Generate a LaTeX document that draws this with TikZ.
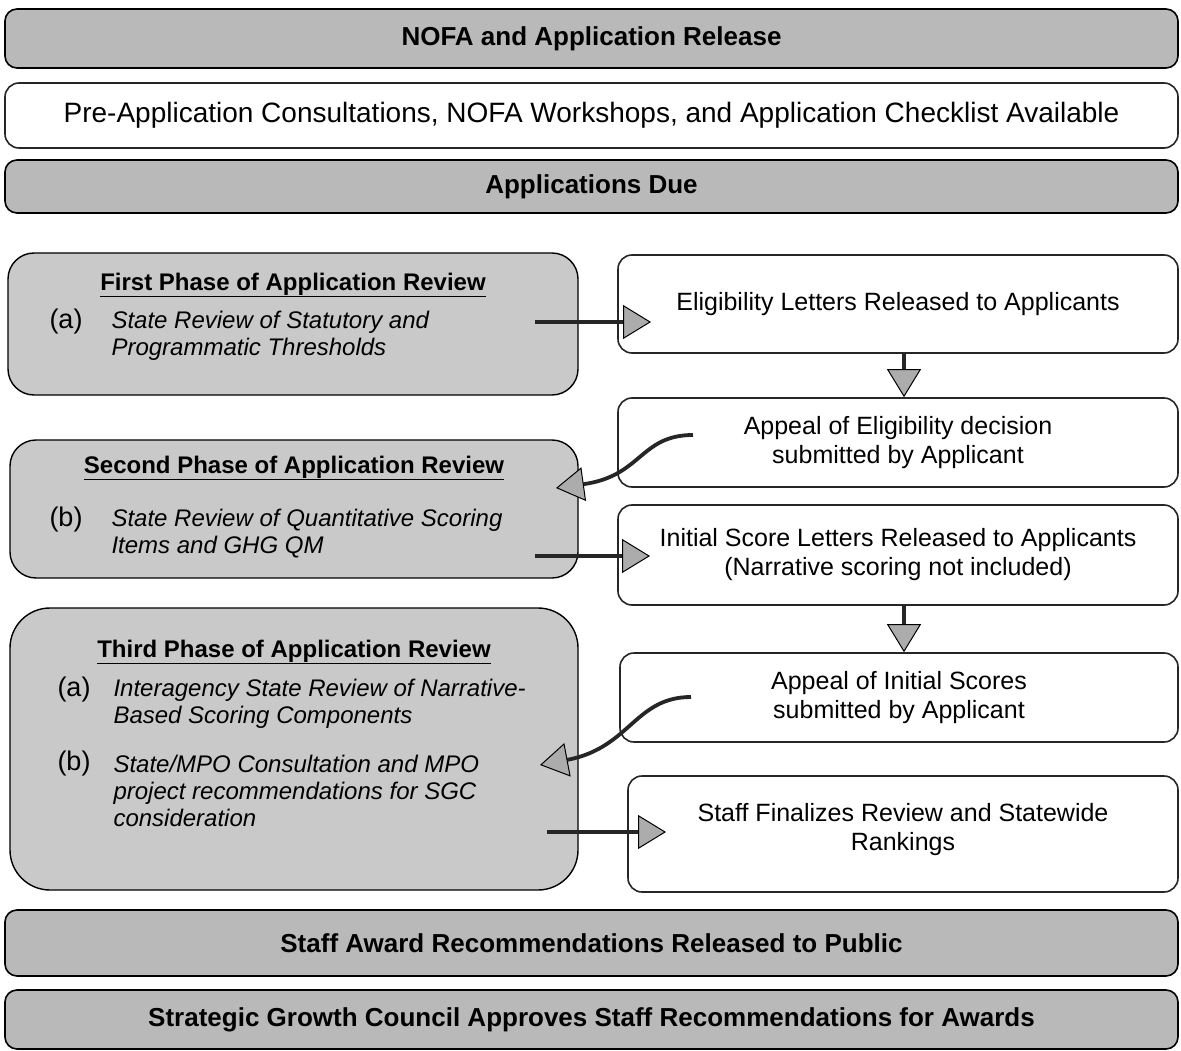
\documentclass[tikz,border=0pt]{standalone}
\usepackage{fontspec}
\setmainfont{Liberation Sans}
\usetikzlibrary{arrows.meta}
\newcommand{\phasehead}[1]{\underline{#1}}

\begin{document}
\begin{tikzpicture}[x=1pt,y=-1pt,
  banner/.style={draw=black,line width=1.6pt,rounded corners=12pt,fill=gray!55,
    minimum width=1173pt,font=\fontsize{26}{30}\selectfont\bfseries},
  stepbox/.style={draw=black!85,line width=1.6pt,rounded corners=14pt,fill=white,
    align=center,font=\fontsize{25}{29}\selectfont},
  phase/.style={draw=black,line width=1.4pt,rounded corners=26pt,fill=gray!42},
  ptitle/.style={font=\fontsize{24}{28}\selectfont\bfseries},
  plabel/.style={font=\fontsize{27}{30}\selectfont},
  pitem/.style={anchor=west,align=left,font=\fontsize{24}{27}\selectfont\itshape},
  flow/.style={line width=3.8pt,draw=black!85,
    -{Triangle[length=28pt,width=34pt,color=black,fill=gray!65,line width=1pt]}}]
  \useasboundingbox (0,0) rectangle (1181,1051);

  % banners and top rows
  \node[banner,minimum height=59pt] (nofa) at (591.5,38.5) {NOFA and Application Release};
  \node[stepbox,minimum width=1173pt,minimum height=65pt,font=\fontsize{28}{32}\selectfont] (preapp) at (591.5,115.5)
    {Pre-Application Consultations, NOFA Workshops, and Application Checklist Available};
  \node[banner,minimum height=53pt] (due) at (591.5,186.5) {Applications Due};

  % review phases
  \node[phase,minimum width=570pt,minimum height=142pt] (first) at (293,324) {};
  \node[ptitle] (first-t) at (293,285) {\phasehead{First Phase of Application Review}};
  \node[plabel] (first-a) at (66,322) {(a)};
  \node[pitem] (first-at) at (108,335.5) {State Review of Statutory and\\Programmatic Thresholds};

  \node[phase,minimum width=568pt,minimum height=138pt] (second) at (294,509) {};
  \node[ptitle] (second-t) at (294,468) {\phasehead{Second Phase of Application Review}};
  \node[plabel] (second-b) at (66,520) {(b)};
  \node[pitem] (second-bt) at (108,533.5) {State Review of Quantitative Scoring\\Items and GHG QM};

  \node[phase,rounded corners=40pt,minimum width=568pt,minimum height=282pt] (third) at (294,749) {};
  \node[ptitle] (third-t) at (294,652) {\phasehead{Third Phase of Application Review}};
  \node[plabel] (third-a) at (74,690) {(a)};
  \node[pitem] (third-at) at (110,703.5) {Interagency State Review of Narrative-\\Based Scoring Components};
  \node[plabel] (third-b) at (74,764) {(b)};
  \node[pitem] (third-bt) at (110,791) {State/MPO Consultation and MPO\\project recommendations for SGC\\consideration};

  % steps on the right
  \node[stepbox,minimum width=560pt,minimum height=98pt] (elig) at (898,304) {Eligibility Letters Released to Applicants};
  \node[stepbox,minimum width=560pt,minimum height=89pt] (appelig) at (898,442.5) {Appeal of Eligibility decision\\submitted by Applicant};
  \node[stepbox,minimum width=560pt,minimum height=100pt] (initscore) at (898,555) {Initial Score Letters Released to Applicants\\(Narrative scoring not included)};
  \node[stepbox,minimum width=558pt,minimum height=89pt] (appinit) at (899,697.5) {Appeal of Initial Scores\\submitted by Applicant};
  \node[stepbox,minimum width=550pt,minimum height=116pt,text depth=14pt] (finalize) at (903,834) {Staff Finalizes Review and Statewide\\Rankings};

  % bottom banners
  \node[banner,minimum height=66pt] (award) at (591.5,943) {Staff Award Recommendations Released to Public};
  \node[banner,minimum height=59pt] (approve) at (591.5,1019.5) {Strategic Growth Council Approves Staff Recommendations for Awards};

  % arrow ends
  \coordinate (h1s) at (535,322);
  \coordinate (h1e) at (651,322);
  \coordinate (h2s) at (535,556);
  \coordinate (h2e) at (650,556);
  \coordinate (h3s) at (547,832);
  \coordinate (h3e) at (666,832);
  \coordinate (c1s) at (693,435);
  \coordinate (c1e) at (556,488);
  \coordinate (c2s) at (691,697);
  \coordinate (c2e) at (540,765);

  \draw[flow] (h1s) -- (h1e);
  \draw[flow] (h2s) -- (h2e);
  \draw[flow] (h3s) -- (h3e);
  \draw[flow] ([xshift=6pt]elig.south) -- ([xshift=6pt]appelig.north);
  \draw[flow] ([xshift=6pt]initscore.south) -- ([xshift=5pt]appinit.north);
  \draw[flow] (c1s) .. controls (640,435) and (642,476) .. (c1e);
  \draw[flow] (c2s) .. controls (635,697) and (630,748) .. (c2e);
\end{tikzpicture}
\end{document}
